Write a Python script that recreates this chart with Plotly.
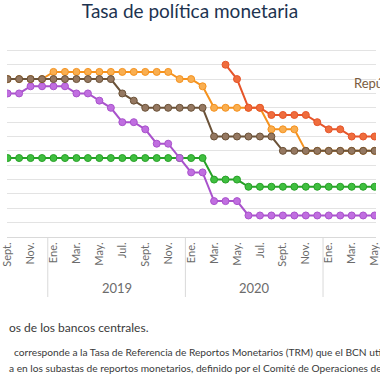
import plotly.graph_objects as go

# Months shown: Sep 2018 .. May 2021 (index 0 = Jan 2019)
month_idx = list(range(-4, 29))
tick_idx = [-4, -2, 0, 2, 4, 6, 8, 10, 12, 14, 16, 18, 20, 22, 24, 26, 28]
tick_text = ["Sept.", "Nov.", "Ene.", "Mar.", "May.", "Jul.", "Sept.", "Nov.",
             "Ene.", "Mar.", "May.", "Jul.", "Sept.", "Nov.", "Ene.", "Mar.", "May."]
years = ["2019", "2020"]
year_centers = [5.5, 17.5]
year_separators = [-0.5, 11.5, 23.5]

guatemala = [2.75, 2.75, 2.75, 2.75,
             2.75, 2.75, 2.75, 2.75, 2.75, 2.75, 2.75, 2.75, 2.75, 2.75, 2.75, 2.75,
             2.75, 2.75, 2.0, 2.0, 2.0, 1.75, 1.75, 1.75, 1.75, 1.75, 1.75, 1.75,
             1.75, 1.75, 1.75, 1.75, 1.75]
costa_rica = [5.0, 5.0, 5.25, 5.25,
              5.25, 5.25, 5.0, 5.0, 4.75, 4.5, 4.0, 4.0, 3.75, 3.25, 3.25, 2.75,
              2.25, 2.25, 1.25, 1.25, 1.25, 0.75, 0.75, 0.75, 0.75, 0.75, 0.75, 0.75,
              0.75, 0.75, 0.75, 0.75, 0.75]
honduras = [5.5, 5.5, 5.5, 5.5,
            5.75, 5.75, 5.75, 5.75, 5.75, 5.75, 5.75, 5.75, 5.75, 5.75, 5.75, 5.5,
            5.5, 5.25, 4.5, 4.5, 4.5, 4.5, 4.5, 3.75, 3.75, 3.75, 3.0, 3.0,
            3.0, 3.0, 3.0, 3.0, 3.0]
rep_dominicana = [5.5, 5.5, 5.5, 5.5,
                  5.5, 5.5, 5.5, 5.5, 5.5, 5.5, 5.0, 4.75, 4.5, 4.5, 4.5, 4.5,
                  4.5, 4.5, 3.5, 3.5, 3.5, 3.5, 3.5, 3.5, 3.0, 3.0, 3.0, 3.0,
                  3.0, 3.0, 3.0, 3.0, 3.0]
nicaragua = [None, None, None, None,
             None, None, None, None, None, None, None, None, None, None, None, None,
             None, None, None, 6.0, 5.5, 4.5, 4.5, 4.25, 4.25, 4.25, 4.25, 4.0,
             3.75, 3.75, 3.5, 3.5, 3.5]

series = [
    ("Guatemala", guatemala, "#27a127", "#3fbf3f"),
    ("Costa Rica", costa_rica, "#a952cc", "#c06ee0"),
    ("Honduras", honduras, "#f5921e", "#f9ae50"),
    ("República Dominicana", rep_dominicana, "#6b5238", "#957861"),
    ("Nicaragua", nicaragua, "#e6552a", "#ef6d3d"),
]

X0, X1 = -4.056, 28.12
W, H = 380, 380
T, B = 36, 143
PLOT_BOTTOM = H - B
PLOT_H = H - T - B


def py(px):
    return (PLOT_BOTTOM - px) / PLOT_H


def pxx(m):
    return (m - X0) / (X1 - X0)


fig = go.Figure()
for name, vals, lc, fc in series:
    fig.add_trace(go.Scatter(
        x=month_idx, y=vals, name=name, mode="lines+markers",
        line=dict(color=lc, width=2),
        marker=dict(size=7, color=fc, line=dict(color=lc, width=1)),
        connectgaps=False, showlegend=False,
    ))

shapes = []
for s in year_separators:
    shapes.append(dict(type="line", xref="paper", yref="paper",
                       x0=pxx(s), x1=pxx(s), y0=0, y1=py(297),
                       line=dict(color="#d9d9d9", width=1)))

annotations = []
for yr, c in zip(years, year_centers):
    annotations.append(dict(text=yr, x=c, xref="x", y=py(288), yref="paper",
                            showarrow=False, xanchor="center", yanchor="middle",
                            font=dict(family="Lato", size=13, color="#6b6b6b")))

annotations.append(dict(text="República Dominicana", x=26.06, xref="x", y=5.36, yref="y",
                        showarrow=False, xanchor="left", yanchor="middle",
                        font=dict(family="Lato", size=13, color="#7a5c40")))

annotations.append(dict(text="os de los bancos centrales.", x=0, xref="paper",
                        y=py(327), yref="paper", showarrow=False,
                        xanchor="left", yanchor="middle",
                        font=dict(family="Lato", size=12, color="#3a3a3a")))
annotations.append(dict(text="corresponde a la Tasa de Referencia de Reportos Monetarios (TRM) que el BCN utiliza",
                        x=5 / W, xref="paper", y=py(351.7), yref="paper", showarrow=False,
                        xanchor="left", yanchor="middle",
                        font=dict(family="Lato", size=10.2, color="#3a3a3a")))
annotations.append(dict(text="a en los subastas de reportos monetarios, definido por el Comité de Operaciones de Mercado",
                        x=0, xref="paper", y=py(368.3), yref="paper", showarrow=False,
                        xanchor="left", yanchor="middle",
                        font=dict(family="Lato", size=10.2, color="#3a3a3a")))

fig.update_layout(
    width=W, height=H,
    margin=dict(l=0, r=0, t=T, b=B),
    paper_bgcolor="white", plot_bgcolor="white",
    title=dict(text="Tasa de política monetaria", x=0.5, xanchor="center",
               y=1 - 11 / H, yanchor="middle",
               font=dict(family="Lato", size=19, color="#1d3350")),
    xaxis=dict(range=[X0, X1], tickmode="array", tickvals=tick_idx, ticktext=tick_text,
               tickangle=-90, tickfont=dict(family="Lato", size=11, color="#6b6b6b"),
               ticklabeloverflow="allow",
               showgrid=False, zeroline=False, showline=True, linecolor="#d9d9d9",
               linewidth=1, ticks=""),
    yaxis=dict(range=[0, 7.001], tick0=0, dtick=0.5, showticklabels=False,
               showgrid=True, gridcolor="#e3e3e3", gridwidth=1, zeroline=False,
               showline=False, ticks=""),
    shapes=shapes, annotations=annotations,
)

fig.write_html("out.html", config={"displayModeBar": False},
               post_script="document.body.style.margin='0';document.body.style.overflow='hidden';")
